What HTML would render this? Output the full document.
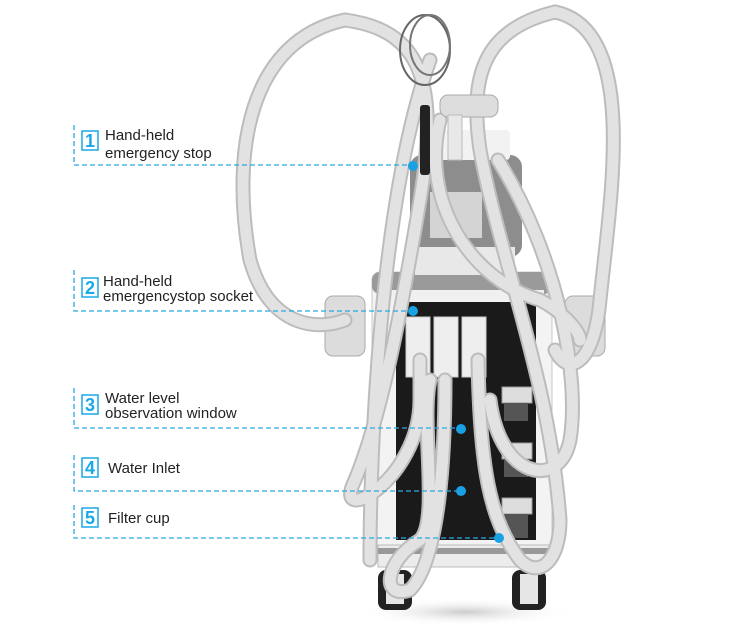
<!DOCTYPE html>
<html><head><meta charset="utf-8"><style>
html,body{margin:0;padding:0;background:#fff;}
svg{display:block;}
text{font-family:"Liberation Sans",Arial,sans-serif;}
</style></head><body>
<svg width="750" height="629" viewBox="0 0 750 629" xmlns="http://www.w3.org/2000/svg">
<defs>
<radialGradient id="sh" cx="50%" cy="50%" r="50%"><stop offset="0" stop-color="#ccc"/><stop offset="1" stop-color="#fff" stop-opacity="0"/></radialGradient>
</defs>
<ellipse cx="465" cy="612" rx="110" ry="14" fill="url(#sh)"/>
<!-- main body -->
<rect x="372" y="272" width="180" height="290" rx="8" fill="#f3f3f3" stroke="#c8c8c8"/>
<rect x="372" y="272" width="180" height="22" rx="8" fill="#9a9a9a"/>
<rect x="380" y="290" width="164" height="10" fill="#f0f0f0"/>
<rect x="396" y="302" width="140" height="238" fill="#1a1a1a"/>
<rect x="378" y="545" width="172" height="22" fill="#ececec" stroke="#bbb"/>
<rect x="378" y="548" width="172" height="6" fill="#999"/>
<rect x="378" y="570" width="34" height="40" rx="8" fill="#222"/>
<rect x="386" y="574" width="18" height="30" fill="#e6e6e6"/>
<rect x="512" y="570" width="34" height="40" rx="8" fill="#222"/>
<rect x="520" y="574" width="18" height="30" fill="#e6e6e6"/>
<!-- head screen -->
<rect x="410" y="155" width="112" height="102" rx="12" fill="#8d8d8d"/>
<rect x="430" y="192" width="52" height="46" fill="#d4d4d4"/>
<rect x="420" y="130" width="90" height="30" rx="4" fill="#f2f2f2"/>
<rect x="415" y="247" width="100" height="28" fill="#e8e8e8"/>
<g fill="#ddd" stroke="#999">
<rect x="502" y="387" width="30" height="16"/><rect x="502" y="443" width="30" height="16"/><rect x="502" y="498" width="30" height="16"/>
</g>
<g fill="#555"><rect x="504" y="403" width="24" height="18"/><rect x="504" y="459" width="24" height="18"/><rect x="504" y="514" width="24" height="24"/></g>
<g fill="#eee" stroke="#ccc"><rect x="406" y="317" width="24" height="60"/><rect x="434" y="317" width="24" height="60"/><rect x="462" y="317" width="24" height="60"/></g>
<rect x="325" y="296" width="40" height="60" rx="8" fill="#dcdcdc" stroke="#aaa"/>
<rect x="565" y="296" width="40" height="60" rx="8" fill="#dcdcdc" stroke="#aaa"/>
<!-- hoses -->
<g fill="none" stroke-linecap="round">
<g stroke="#bcbcbc" stroke-width="15">
<path d="M345 20 C250 40 230 150 250 260 C270 330 320 330 345 320"/>
<path d="M345 20 C420 30 440 80 420 200 C400 320 380 420 355 480 C330 530 420 480 420 400 L420 360"/>
<path d="M555 12 C640 30 610 200 600 300 C595 360 570 380 555 350"/>
<path d="M555 12 C480 30 470 80 480 150 C500 260 550 380 560 520 C560 560 540 580 520 560 C490 520 480 470 478 360"/>
<path d="M440 120 C420 200 470 280 540 300 C560 310 580 330 580 340"/>
<path d="M445 380 C445 450 440 560 410 590 C380 600 385 560 420 540 C440 520 420 420 430 380"/>
<path d="M498 160 C560 260 580 380 570 440 C560 490 500 480 490 400"/>
<path d="M430 60 C380 200 370 450 370 560"/>
</g>
<g stroke="#e2e2e2" stroke-width="11">
<path d="M345 20 C250 40 230 150 250 260 C270 330 320 330 345 320"/>
<path d="M345 20 C420 30 440 80 420 200 C400 320 380 420 355 480 C330 530 420 480 420 400 L420 360"/>
<path d="M555 12 C640 30 610 200 600 300 C595 360 570 380 555 350"/>
<path d="M555 12 C480 30 470 80 480 150 C500 260 550 380 560 520 C560 560 540 580 520 560 C490 520 480 470 478 360"/>
<path d="M440 120 C420 200 470 280 540 300 C560 310 580 330 580 340"/>
<path d="M445 380 C445 450 440 560 410 590 C380 600 385 560 420 540 C440 520 420 420 430 380"/>
<path d="M498 160 C560 260 580 380 570 440 C560 490 500 480 490 400"/>
<path d="M430 60 C380 200 370 450 370 560"/>
</g>
</g>
<ellipse cx="425" cy="50" rx="25" ry="35" fill="none" stroke="#666" stroke-width="2"/>
<ellipse cx="430" cy="45" rx="20" ry="30" fill="none" stroke="#777" stroke-width="2"/>
<rect x="420" y="105" width="10" height="70" rx="3" fill="#222"/>
<rect x="440" y="95" width="58" height="22" rx="8" fill="#ddd" stroke="#aaa"/>
<rect x="448" y="115" width="14" height="45" fill="#e8e8e8" stroke="#bbb"/>
<!-- connectors -->
<g stroke="#2aa7e6" stroke-width="1.3" stroke-dasharray="5,3" fill="none">
<path d="M74 125 V165 H413"/>
<path d="M74 270 V311 H413"/>
<path d="M74 388 V428 H461"/>
<path d="M74 455 V491 H461"/>
<path d="M74 505 V538 H499"/>
</g>
<g fill="#18a2e4">
<circle cx="413" cy="166" r="5"/><circle cx="413" cy="311" r="5"/><circle cx="461" cy="429" r="5"/><circle cx="461" cy="491" r="5"/><circle cx="499" cy="538" r="5"/>
</g>
<g fill="#fff" stroke="#1aa8e6" stroke-width="1.5">
<rect x="82" y="131" width="16" height="19"/><rect x="82" y="278" width="16" height="19"/><rect x="82" y="395" width="16" height="19"/><rect x="82" y="458" width="16" height="19"/><rect x="82" y="508" width="16" height="19"/>
</g>
<g fill="#1aa8e6" font-size="18" font-weight="bold" text-anchor="middle">
<text x="90" y="147">1</text><text x="90" y="294">2</text><text x="90" y="411">3</text><text x="90" y="474">4</text><text x="90" y="524">5</text>
</g>
<g fill="#222" font-size="15">
<text x="105" y="140">Hand-held</text><text x="105" y="158">emergency stop</text>
<text x="103" y="286">Hand-held</text><text x="103" y="301">emergencystop socket</text>
<text x="105" y="403">Water level</text><text x="105" y="418">observation window</text>
<text x="108" y="473">Water Inlet</text>
<text x="108" y="523">Filter cup</text>
</g>
</svg>
</body></html>
